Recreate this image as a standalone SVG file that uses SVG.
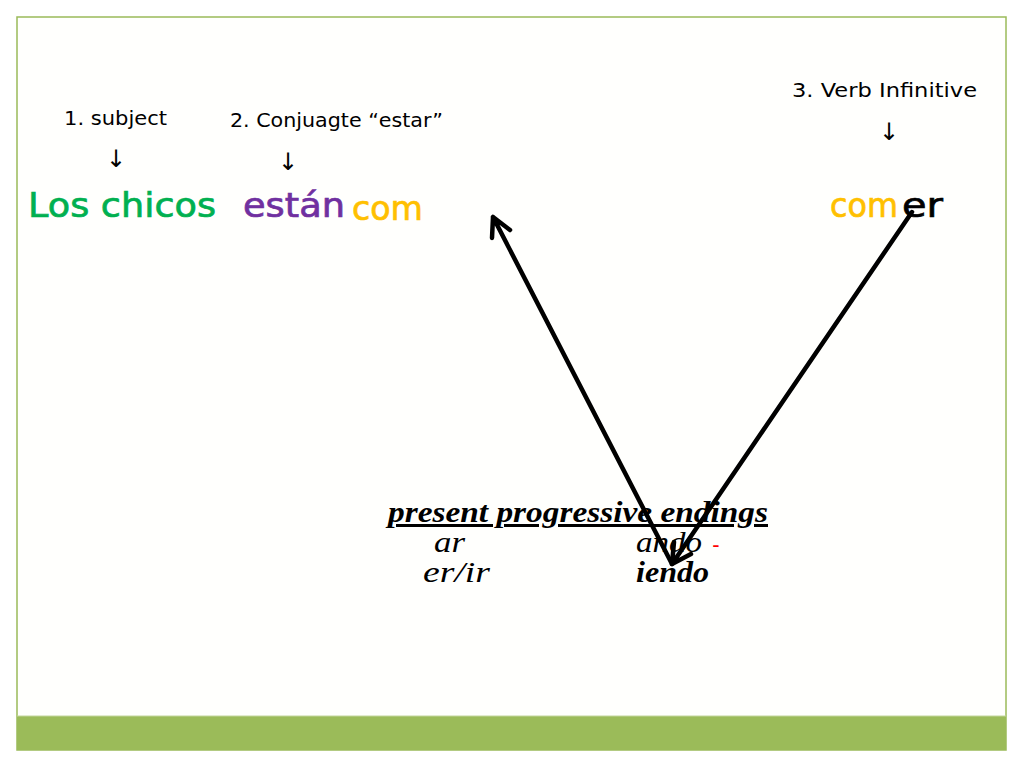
<svg xmlns="http://www.w3.org/2000/svg" width="1024" height="768" viewBox="0 0 1024 768">
<defs>
<style>
.lab{font-family:"DejaVu Sans","Liberation Sans",sans-serif;font-size:20px;fill:#000}
.arr{font-family:"DejaVu Sans",sans-serif;font-size:24px;fill:#000}
.big{font-family:"DejaVu Sans","Liberation Sans",sans-serif;font-size:34px;stroke-width:0.7}
.it{font-family:"Liberation Serif","DejaVu Serif",serif;font-style:italic;font-size:30px;fill:#000}
.conn{stroke:#000;stroke-width:4.5;fill:none;stroke-linecap:round;stroke-linejoin:round}
</style>
</defs>
<rect x="0" y="0" width="1024" height="768" fill="#ffffff"/>
<rect x="17" y="17" width="989" height="733" fill="#fffffd" stroke="#9bbb59" stroke-width="1.5"/>
<rect x="17" y="716" width="989" height="34" fill="#9bbb59"/>
<line x1="17" y1="716" x2="1006" y2="716" stroke="#c3d69b" stroke-width="1"/>

<g id="subject">
<text class="lab" x="64" y="125" textLength="103" lengthAdjust="spacingAndGlyphs">1. subject</text>
<text class="arr" x="116" y="167" text-anchor="middle">↓</text>
<text class="big" x="28" y="217" fill="#00b050" stroke="#00b050" textLength="188" lengthAdjust="spacingAndGlyphs">Los chicos</text>
</g>
<g id="estar">
<text class="lab" x="230" y="127" textLength="213" lengthAdjust="spacingAndGlyphs">2. Conjuagte “estar”</text>
<text class="arr" x="288" y="170" text-anchor="middle">↓</text>
<text class="big" x="243" y="217" fill="#7030a0" stroke="#7030a0" textLength="102" lengthAdjust="spacingAndGlyphs">están</text>
<text class="big" x="352" y="220" fill="#ffc000" stroke="#ffc000" textLength="71" lengthAdjust="spacingAndGlyphs">com</text>
</g>
<g id="infinitive">
<text class="lab" x="792" y="97" textLength="185" lengthAdjust="spacingAndGlyphs">3. Verb Infinitive</text>
<text class="arr" x="889" y="140" text-anchor="middle">↓</text>
<text class="big" x="830" y="217" fill="#ffc000" stroke="#ffc000" textLength="68" lengthAdjust="spacingAndGlyphs">com</text>
<text class="big" x="902" y="217" fill="#000" stroke="#000" textLength="41" lengthAdjust="spacingAndGlyphs">er</text>
</g>
<g id="endings">
<text class="it" x="388" y="522" font-weight="bold" text-decoration="underline" textLength="380" lengthAdjust="spacingAndGlyphs">present progressive endings</text>
<text class="it" x="434" y="552" textLength="31" lengthAdjust="spacingAndGlyphs">ar</text>
<text class="it" x="636" y="552" textLength="66" lengthAdjust="spacingAndGlyphs">ando</text>
<text x="716" y="552" font-family="Liberation Sans,sans-serif" font-size="22" fill="#ff0000" text-anchor="middle">-</text>
<text class="it" x="423" y="582" textLength="67" lengthAdjust="spacingAndGlyphs">er/ir</text>
<text class="it" x="636" y="582" font-weight="bold" textLength="73" lengthAdjust="spacingAndGlyphs">iendo</text>
</g>
<g id="connectors">
<path class="conn" d="M672,564 L493,217 M493,217 L492,238 M493,217 L510,230"/>
<path class="conn" d="M912,212 L672,564 M672,564 L674,542 M672,564 L691,554"/>
</g>
</svg>
